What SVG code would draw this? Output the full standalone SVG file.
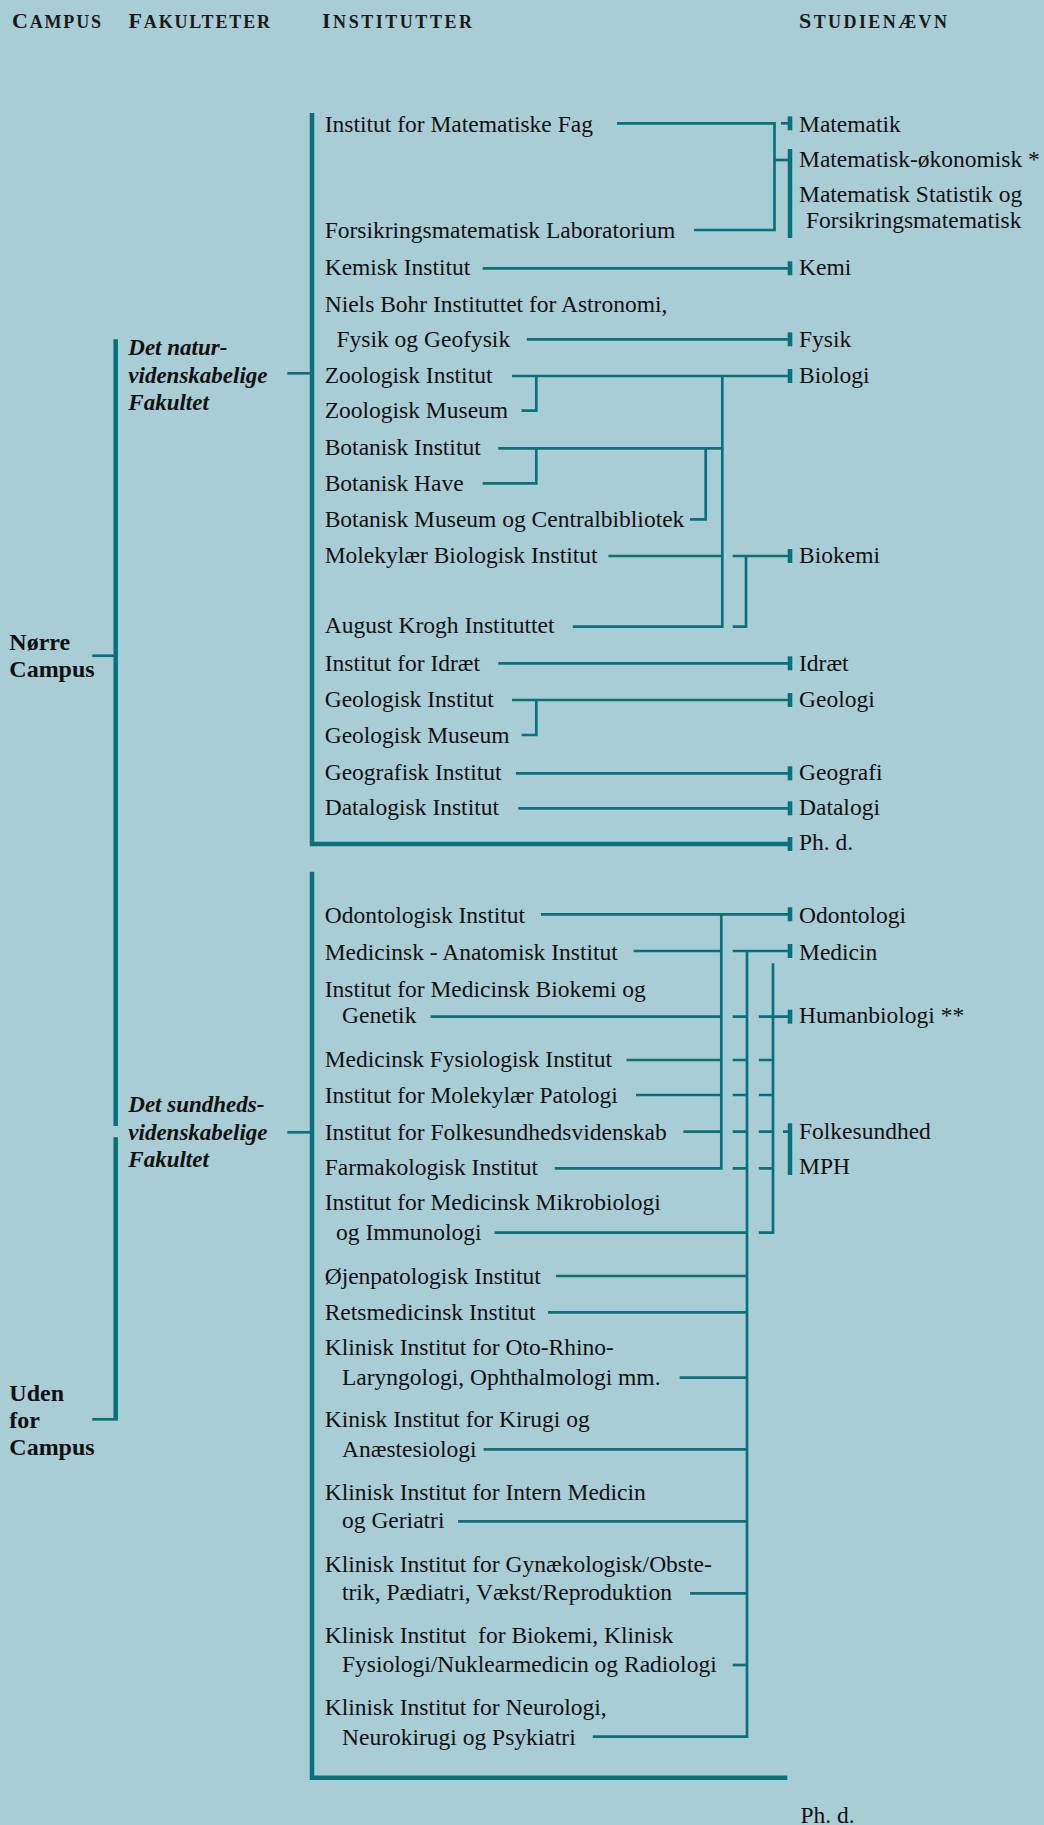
<svg xmlns="http://www.w3.org/2000/svg" xmlns:xlink="http://www.w3.org/1999/xlink" width="1044" height="1825" viewBox="0 0 1044 1825">
<style>
.t{font-family:"Liberation Serif","Times New Roman",serif;font-size:23.5px;fill:#111}
.h{font-family:"Liberation Serif","Times New Roman",serif;font-weight:bold;fill:#1a1a1a}
.f{font-family:"Liberation Serif","Times New Roman",serif;font-weight:bold;font-style:italic;font-size:23px;fill:#111}
.c{font-family:"Liberation Serif","Times New Roman",serif;font-weight:bold;font-size:24px;fill:#111}
.ln{stroke:#0a717b;stroke-width:2.7;fill:none}
.bar{stroke:#0a717b;stroke-width:4.5;fill:none}
.tk{fill:#0a717b}
</style>
<defs>
<rect id="tick" x="-2.3" y="-7" width="4.6" height="14"/>
</defs>
<rect width="1044" height="1825" fill="#a8cdd5"/>

<g id="headers">
<text class="h" x="12" y="28.3" textLength="89" lengthAdjust="spacing"><tspan font-size="22">C</tspan><tspan font-size="18">AMPUS</tspan></text>
<text class="h" x="128.5" y="28.3" textLength="141.5" lengthAdjust="spacing"><tspan font-size="22">F</tspan><tspan font-size="18">AKULTETER</tspan></text>
<text class="h" x="322" y="28.3" textLength="150" lengthAdjust="spacing"><tspan font-size="22">I</tspan><tspan font-size="18">NSTITUTTER</tspan></text>
<text class="h" x="799" y="28.3" textLength="148" lengthAdjust="spacing"><tspan font-size="22">S</tspan><tspan font-size="18">TUDIENÆVN</tspan></text>
</g>

<g id="connectors">
<path class="bar" d="M115.7 339.3 V1126"/>
<path class="bar" d="M115.7 1137.3 V1419.3"/>
<path class="ln" d="M92.3 655.7 H115.7"/>
<path class="ln" d="M92.3 1419.3 H117.9"/>
<path class="ln" d="M287.3 373.3 H312"/>
<path class="ln" d="M287.3 1132.3 H312"/>
<path class="bar" d="M312 113 V844 H790"/>
<path class="ln" d="M617 123.3 H774.5 V230 H694"/>
<path class="ln" d="M774.5 160 H790"/>
<path class="ln" d="M781 123.3 H790"/>
<path class="bar" d="M790 149 V238"/>
<path class="ln" d="M482.7 268.3 H790"/>
<path class="ln" d="M526.8 339.3 H790"/>
<path class="ln" d="M512 376 H790"/>
<path class="ln" d="M521.6 410.7 H536.3 V376"/>
<path class="ln" d="M722.3 376 V626.7 H572.8"/>
<path class="ln" d="M498.3 448.3 H722.3"/>
<path class="ln" d="M482.7 483.3 H536.3 V448.3"/>
<path class="ln" d="M690 519.3 H705.7 V448.3"/>
<path class="ln" d="M608.4 556 H722.3"/>
<path class="ln" d="M732.7 556 H790"/>
<path class="ln" d="M746 556 V626.7 H732.7"/>
<path class="ln" d="M498.3 663.3 H790"/>
<path class="ln" d="M512 700 H790"/>
<path class="ln" d="M521.6 735 H536.3 V700"/>
<path class="ln" d="M515.9 773.3 H790"/>
<path class="ln" d="M518.3 808.3 H790"/>
<path class="bar" d="M312 871.7 V1777.7 H787.3"/>
<path class="ln" d="M541 914.3 H790"/>
<path class="ln" d="M721.3 914.3 V1168.3 H554.8"/>
<path class="ln" d="M633.6 951 H721.3"/>
<path class="ln" d="M732.7 951 H790"/>
<path class="ln" d="M747 951 V1736.7 H592.8"/>
<path class="ln" d="M773 963.3 V1232.7 H758.8"/>
<path class="ln" d="M430.5 1016.7 H721.3 M732.7 1016.7 H747 M758.8 1016.7 H790"/>
<path class="ln" d="M626.5 1060 H721.3 M732.7 1060 H747 M758.8 1060 H773"/>
<path class="ln" d="M636 1095 H721.3 M732.7 1095 H747 M758.8 1095 H773"/>
<path class="ln" d="M683.4 1131.7 H721.3 M732.7 1131.7 H747 M758.8 1131.7 H773 M783 1131.7 H790"/>
<path class="ln" d="M732.7 1168.3 H747 M758.8 1168.3 H773"/>
<path class="bar" d="M790 1123.3 V1175"/>
<path class="ln" d="M494.5 1232.7 H747"/>
<path class="ln" d="M556 1276 H747"/>
<path class="ln" d="M548 1312.3 H747"/>
<path class="ln" d="M679.6 1377.7 H747"/>
<path class="ln" d="M483.6 1449.3 H747"/>
<path class="ln" d="M458 1521.3 H747"/>
<path class="ln" d="M690 1593.3 H747"/>
<path class="ln" d="M732.7 1665 H747"/>
<g class="tk">
<use xlink:href="#tick" x="790" y="123.3"/>
<use xlink:href="#tick" x="790" y="268.3"/>
<use xlink:href="#tick" x="790" y="339.3"/>
<use xlink:href="#tick" x="790" y="376"/>
<use xlink:href="#tick" x="790" y="556"/>
<use xlink:href="#tick" x="790" y="663.3"/>
<use xlink:href="#tick" x="790" y="700"/>
<use xlink:href="#tick" x="790" y="773.3"/>
<use xlink:href="#tick" x="790" y="808.3"/>
<use xlink:href="#tick" x="790" y="844"/>
<use xlink:href="#tick" x="790" y="914.3"/>
<use xlink:href="#tick" x="790" y="951"/>
<use xlink:href="#tick" x="790" y="1016.7"/>
</g>
</g>

<g id="campus-norre"><text class="c" x="9.3" y="650">Nørre</text><text class="c" x="9.3" y="677.3">Campus</text></g>
<g id="campus-uden"><text class="c" x="9.3" y="1401">Uden</text><text class="c" x="9.3" y="1428.3">for</text><text class="c" x="9.3" y="1455">Campus</text></g>

<g id="fak-natur"><text class="f" x="128.3" y="355">Det natur-</text><text class="f" x="128.3" y="382.7">videnskabelige</text><text class="f" x="128.3" y="410">Fakultet</text></g>
<g id="fak-sund"><text class="f" x="128.3" y="1111.7">Det sundheds-</text><text class="f" x="128.3" y="1140">videnskabelige</text><text class="f" x="128.3" y="1167.3">Fakultet</text></g>

<g id="institutter-natur">
<g id="i-matfag"><text class="t" x="324.7" y="131.7">Institut for Matematiske Fag</text></g>
<g id="i-forsik"><text class="t" x="324.7" y="238.3">Forsikringsmatematisk Laboratorium</text></g>
<g id="i-kemi"><text class="t" x="324.7" y="275">Kemisk Institut</text></g>
<g id="i-nbi"><text class="t" x="324.7" y="311.7">Niels Bohr Instituttet for Astronomi,</text><text class="t" x="336.5" y="346.7">Fysik og Geofysik</text></g>
<g id="i-zooi"><text class="t" x="324.7" y="383.3">Zoologisk Institut</text></g>
<g id="i-zoom"><text class="t" x="324.7" y="418.3">Zoologisk Museum</text></g>
<g id="i-boti"><text class="t" x="324.7" y="455">Botanisk Institut</text></g>
<g id="i-both"><text class="t" x="324.7" y="490.7">Botanisk Have</text></g>
<g id="i-botm"><text class="t" x="324.7" y="526.7">Botanisk Museum og Centralbibliotek</text></g>
<g id="i-mol"><text class="t" x="324.7" y="563.3">Molekylær Biologisk Institut</text></g>
<g id="i-akrogh"><text class="t" x="324.7" y="633.3">August Krogh Instituttet</text></g>
<g id="i-idraet"><text class="t" x="324.7" y="670.7">Institut for Idræt</text></g>
<g id="i-geoi"><text class="t" x="324.7" y="706.7">Geologisk Institut</text></g>
<g id="i-geom"><text class="t" x="324.7" y="743.3">Geologisk Museum</text></g>
<g id="i-geogr"><text class="t" x="324.7" y="780">Geografisk Institut</text></g>
<g id="i-data"><text class="t" x="324.7" y="815">Datalogisk Institut</text></g>
</g>

<g id="institutter-sund">
<g id="i-odont"><text class="t" x="324.7" y="923.3">Odontologisk Institut</text></g>
<g id="i-medanat"><text class="t" x="324.7" y="960">Medicinsk - Anatomisk Institut</text></g>
<g id="i-medbio"><text class="t" x="324.7" y="996.7">Institut for Medicinsk Biokemi og</text><text class="t" x="342" y="1023.3">Genetik</text></g>
<g id="i-medfys"><text class="t" x="324.7" y="1066.7">Medicinsk Fysiologisk Institut</text></g>
<g id="i-molpat"><text class="t" x="324.7" y="1103.3">Institut for Molekylær Patologi</text></g>
<g id="i-folk"><text class="t" x="324.7" y="1140">Institut for Folkesundhedsvidenskab</text></g>
<g id="i-farm"><text class="t" x="324.7" y="1175">Farmakologisk Institut</text></g>
<g id="i-mikro"><text class="t" x="324.7" y="1210">Institut for Medicinsk Mikrobiologi</text><text class="t" x="336" y="1240">og Immunologi</text></g>
<g id="i-ojen"><text class="t" x="324.7" y="1284">Øjenpatologisk Institut</text></g>
<g id="i-rets"><text class="t" x="324.7" y="1320">Retsmedicinsk Institut</text></g>
<g id="i-oto"><text class="t" x="324.7" y="1355">Klinisk Institut for Oto-Rhino-</text><text class="t" x="342" y="1385">Laryngologi, Ophthalmologi mm.</text></g>
<g id="i-kir"><text class="t" x="324.7" y="1426.7">Kinisk Institut for Kirugi og</text><text class="t" x="342" y="1456.7">Anæstesiologi</text></g>
<g id="i-intern"><text class="t" x="324.7" y="1500">Klinisk Institut for Intern Medicin</text><text class="t" x="342" y="1528.3">og Geriatri</text></g>
<g id="i-gyn"><text class="t" x="324.7" y="1571.7">Klinisk Institut for Gynækologisk/Obste-</text><text class="t" x="342" y="1600">trik, Pædiatri, Vækst/Reproduktion</text></g>
<g id="i-biokl"><text class="t" x="324.7" y="1643.3" xml:space="preserve">Klinisk Institut  for Biokemi, Klinisk</text><text class="t" x="342" y="1671.7">Fysiologi/Nuklearmedicin og Radiologi</text></g>
<g id="i-neuro"><text class="t" x="324.7" y="1715">Klinisk Institut for Neurologi,</text><text class="t" x="342" y="1745">Neurokirugi og Psykiatri</text></g>
</g>

<g id="studienaevn">
<g id="s-mat"><text class="t" x="799" y="131.7">Matematik</text></g>
<g id="s-matok"><text class="t" x="799" y="166.7">Matematisk-økonomisk *</text></g>
<g id="s-matstat"><text class="t" x="799" y="201.7">Matematisk Statistik og</text><text class="t" x="806" y="228.3">Forsikringsmatematisk</text></g>
<g id="s-kemi"><text class="t" x="799" y="275">Kemi</text></g>
<g id="s-fysik"><text class="t" x="799" y="346.7">Fysik</text></g>
<g id="s-bio"><text class="t" x="799" y="383.3">Biologi</text></g>
<g id="s-biokemi"><text class="t" x="799" y="563.3">Biokemi</text></g>
<g id="s-idraet"><text class="t" x="799" y="670.7">Idræt</text></g>
<g id="s-geologi"><text class="t" x="799" y="706.7">Geologi</text></g>
<g id="s-geografi"><text class="t" x="799" y="780">Geografi</text></g>
<g id="s-datalogi"><text class="t" x="799" y="815">Datalogi</text></g>
<g id="s-phd1"><text class="t" x="799" y="850">Ph. d.</text></g>
<g id="s-odont"><text class="t" x="799" y="923.3">Odontologi</text></g>
<g id="s-medicin"><text class="t" x="799" y="960">Medicin</text></g>
<g id="s-human"><text class="t" x="799" y="1023.3">Humanbiologi **</text></g>
<g id="s-folk"><text class="t" x="799" y="1139">Folkesundhed</text></g>
<g id="s-mph"><text class="t" x="799" y="1174">MPH</text></g>
<g id="s-phd2"><text class="t" x="800.5" y="1823">Ph. d.</text></g>
</g>
</svg>
